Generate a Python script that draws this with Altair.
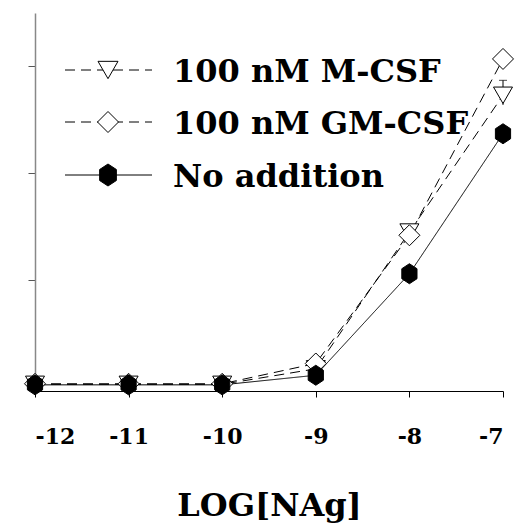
import altair as alt
import pandas as pd

# ---- data ----
x_log = [-12, -11, -10, -9, -8, -7]
m_csf = [0.25, 0.25, 0.25, 1.7, 14.5, 27.3]
gm_csf = [0.3, 0.3, 0.3, 2.2, 14.2, 30.7]
no_addition = [0.2, 0.2, 0.2, 1.1, 10.6, 23.7]
series_names = ["100 nM M-CSF", "100 nM GM-CSF", "No addition"]
err_x = [-7]
err_lo = [26.4]
err_hi = [28.7]
x_ticks = [-12, -11, -10, -9, -8, -7]
y_ticks = [10, 20, 30]

rows = []
for name, vals in zip(series_names, [m_csf, gm_csf, no_addition]):
    for xv, yv in zip(x_log, vals):
        rows.append({"series": name, "x": xv, "y": yv})
df = pd.DataFrame(rows)
err_df = pd.DataFrame({"x": err_x, "lo": err_lo, "hi": err_hi})

FONT = "DejaVu Serif"
HEX = "M0,-1L0.76,-0.5L0.76,0.5L0,1L-0.76,0.5L-0.76,-0.5Z"
DASH = [10, 6]

xs = alt.Scale(domain=[-12, -7], nice=False, zero=False)
ys = alt.Scale(domain=[-0.375, 35], nice=False, zero=False)

X = alt.X("x:Q", scale=xs, axis=alt.Axis(
    values=x_ticks, labelExpr="'' + datum.value", grid=False,
    labelFont=FONT, labelFontWeight="bold", labelFontSize=22, labelColor="black",
    labelPadding=29, tickSize=6, tickColor="black", domainColor="black",
    title="LOG[NAg]", titleFont=FONT, titleFontWeight="bold", titleFontSize=32,
    titleColor="black", titleBaseline="alphabetic", titleY=124))
Y_AXIS = alt.Axis(values=y_ticks, labels=False, grid=False, tickSize=7, tickColor="#555",
                  domainColor="#888", domainWidth=1.5, title=None)
Y = alt.Y("y:Q", scale=ys, axis=Y_AXIS)

base = alt.Chart(df)

lines = base.mark_line(color="black", strokeWidth=1).encode(
    x=X, y=Y,
    detail="series:N",
    strokeDash=alt.StrokeDash("series:N", scale=alt.Scale(
        domain=series_names, range=[DASH, DASH, [1, 0]]), legend=None))

err_rule = alt.Chart(err_df).mark_rule(color="black", strokeWidth=1).encode(
    x=X, y=alt.Y("lo:Q", scale=ys, axis=Y_AXIS), y2="hi:Q")
err_cap = alt.Chart(err_df).mark_tick(color="black", thickness=1, size=8, orient="horizontal").encode(
    x=X, y=alt.Y("hi:Q", scale=ys, axis=Y_AXIS))

tri = base.transform_filter(alt.datum.series == series_names[0]).mark_point(
    shape="triangle-down", size=361, filled=True, fill="white", stroke="black",
    strokeWidth=1, opacity=1).encode(x=X, y=Y)
dia = base.transform_filter(alt.datum.series == series_names[1]).mark_point(
    shape="diamond", size=441, filled=True, fill="white", stroke="black",
    strokeWidth=1, opacity=1).encode(x=X, y=Y)
hexm = base.transform_filter(alt.datum.series == series_names[2]).mark_point(
    shape=HEX, size=400, filled=True, fill="black", stroke="black",
    strokeWidth=1, opacity=1).encode(x=X, y=Y)

# ---- hand-drawn legend ----
one = pd.DataFrame({"k": [0]})
leg_rows = [57, 109, 162]
leg_shapes = ["triangle-down", "diamond", HEX]
leg_sizes = [400, 441, 484]
leg_fill = ["white", "white", "black"]
leg_dash = [DASH, DASH, [1, 0]]
legend_layers = []
for i, name in enumerate(series_names):
    yy = leg_rows[i]
    legend_layers.append(alt.Chart(one).mark_rule(
        color="black", strokeWidth=1, strokeDash=leg_dash[i]).encode(
        x=alt.value(30), x2=alt.value(117), y=alt.value(yy)))
    legend_layers.append(alt.Chart(one).mark_point(
        shape=leg_shapes[i], size=leg_sizes[i], filled=True, fill=leg_fill[i],
        stroke="black", strokeWidth=1, opacity=1).encode(
        x=alt.value(73), y=alt.value(yy)))
    legend_layers.append(alt.Chart(one).mark_text(
        align="left", baseline="alphabetic", font=FONT, fontWeight="bold",
        fontSize=32, color="black").encode(
        x=alt.value(138), y=alt.value(yy + 12), text=alt.value(name)))

chart = alt.layer(lines, err_rule, err_cap, tri, dia, hexm, *legend_layers).properties(
    width=468, height=378,
    background="white",
    autosize=alt.AutoSizeParams(type="none"),
    padding={"left": 35, "top": 13, "right": 26, "bottom": 133},
).configure_view(strokeWidth=0)

chart.save("out.html", embed_options={"renderer": "svg", "actions": False})
